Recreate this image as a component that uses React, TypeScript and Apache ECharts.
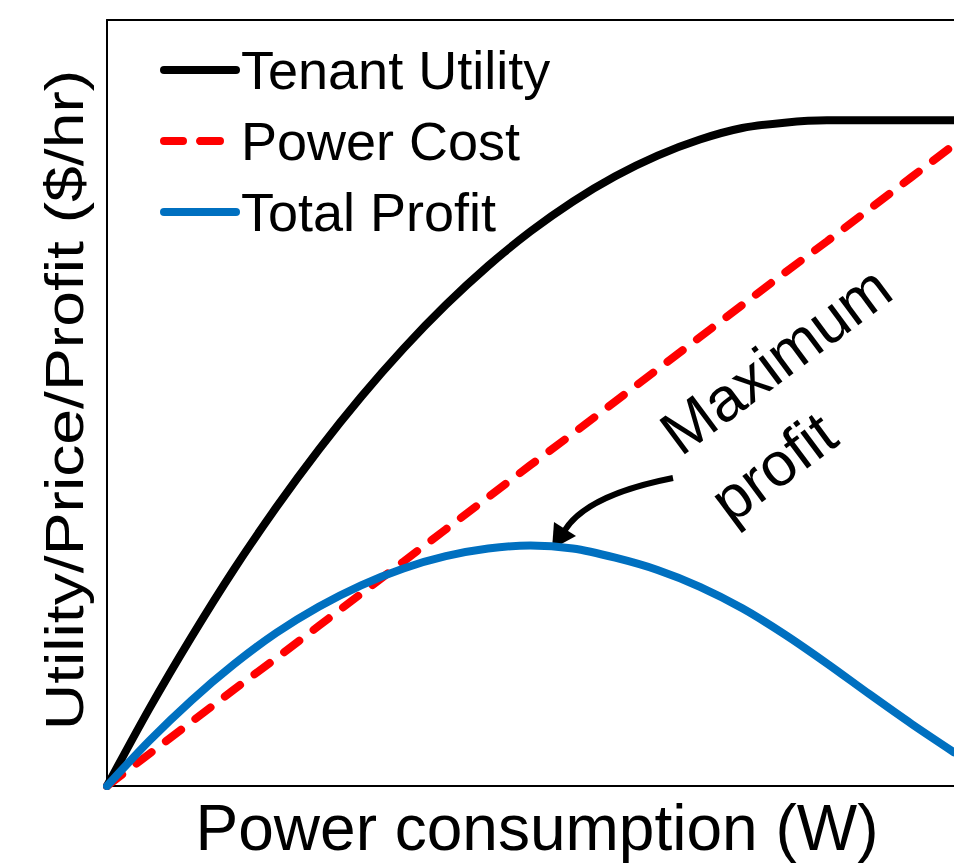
import React, { useEffect, useRef } from 'react';
import * as echarts from 'echarts';

const seriesNames = ['Tenant Utility', 'Power Cost', 'Total Profit'];
const powerConsumption = [0, 5, 10, 15, 20, 25, 30, 35, 40, 45, 50, 55, 60, 65, 70, 75, 80, 85, 90, 95, 100];
const tenantUtility = [0, 10.1, 19.5, 28.3, 36.4, 43.9, 50.8, 57.1, 62.8, 67.9, 72.4, 76.3, 79.6, 82.3, 84.4, 85.9, 86.6, 86.9, 86.9, 86.9, 86.9];
const powerCost = [0, 4.2, 8.4, 12.6, 16.7, 20.9, 25.1, 29.3, 33.5, 37.7, 41.9, 46.0, 50.2, 54.4, 58.6, 62.8, 67.0, 71.1, 75.3, 79.5, 83.7];
const totalProfit = [0, 5.9, 11.2, 15.9, 20.0, 23.4, 26.2, 28.4, 30.0, 31.0, 31.4, 31.0, 29.8, 28.2, 26.0, 23.2, 19.8, 16.0, 12.0, 8.1, 4.4];
const xTitle = 'Power consumption (W)';
const yTitle = 'Utility/Price/Profit ($/hr)';
const annotationLines = ['Maximum', 'profit'];

const FONT = '"Liberation Sans", Arial, Helvetica, sans-serif';

export default function App() {
  const ref = useRef<HTMLDivElement>(null);
  useEffect(() => {
    const chart = echarts.init(ref.current as HTMLDivElement, null, { renderer: 'svg' });
    const pairs = (ys: number[]) => powerConsumption.map((x, i) => [x, ys[i]]);
    const plainAxis = {
      type: 'value',
      min: 0,
      max: 100,
      axisLine: { show: true, onZero: false, lineStyle: { color: '#000', width: 2 } },
      axisTick: { show: false },
      axisLabel: { show: false },
      splitLine: { show: false },
    };
    chart.setOption({
      animation: false,
      backgroundColor: '#ffffff',
      textStyle: { fontFamily: FONT },
      grid: { left: 107, right: 0, top: 20, bottom: 77 },
      xAxis: [
        { ...plainAxis, position: 'bottom' },
        { ...plainAxis, position: 'top' },
      ],
      yAxis: [{ ...plainAxis, position: 'left' }],
      legend: {
        data: seriesNames,
        orient: 'vertical',
        left: 160,
        top: 40,
        padding: 0,
        itemGap: 11,
        itemWidth: 72,
        itemHeight: 10,
        selectedMode: false,
        lineStyle: { width: 8, cap: 'round' },
        textStyle: { fontSize: 54, fontFamily: FONT, color: '#000', lineHeight: 60 },
      },
      series: [
        {
          name: seriesNames[0],
          type: 'line',
          data: pairs(tenantUtility),
          smooth: 0.3,
          symbol: 'none',
          lineStyle: { color: '#000000', width: 8, cap: 'round' },
          itemStyle: { color: '#000000' },
        },
        {
          name: seriesNames[1],
          type: 'line',
          data: pairs(powerCost),
          symbol: 'none',
          lineStyle: { color: '#ff0000', width: 8, type: [19, 18], cap: 'round' },
          itemStyle: { color: '#ff0000' },
        },
        {
          name: seriesNames[2],
          type: 'line',
          data: pairs(totalProfit),
          smooth: 0.3,
          symbol: 'none',
          lineStyle: { color: '#0070c0', width: 8, cap: 'round' },
          itemStyle: { color: '#0070c0' },
        },
      ],
      graphic: [
        {
          type: 'text',
          x: 64,
          y: 400,
          rotation: Math.PI / 2,
          scaleX: 1.19,
          style: { text: yTitle, fontSize: 54, fontFamily: FONT, fill: '#000', align: 'center', verticalAlign: 'middle' },
        },
        {
          type: 'text',
          x: 537,
          y: 828,
          style: { text: xTitle, fontSize: 64, fontFamily: FONT, fill: '#000', align: 'center', verticalAlign: 'middle' },
        },
        {
          type: 'text',
          x: 668,
          y: 440,
          rotation: 0.64,
          style: { text: annotationLines[0], fontSize: 62, fontFamily: FONT, fill: '#000', align: 'left', verticalAlign: 'middle' },
        },
        {
          type: 'text',
          x: 718,
          y: 508,
          rotation: 0.64,
          style: { text: annotationLines[1], fontSize: 62, fontFamily: FONT, fill: '#000', align: 'left', verticalAlign: 'middle' },
        },
        {
          type: 'bezierCurve',
          shape: { x1: 673, y1: 478, x2: 565, y2: 530, cpx1: 587, cpy1: 495 },
          style: { stroke: '#000', lineWidth: 6, fill: null },
        },
        {
          type: 'polygon',
          shape: { points: [[552, 549], [554, 522], [576, 536]] },
          style: { fill: '#000' },
        },
      ],
    });
    return () => chart.dispose();
  }, []);
  return (
    <div
      ref={ref}
      style={{ position: 'fixed', left: 0, top: 0, width: 954, height: 863, background: '#fff' }}
    />
  );
}
